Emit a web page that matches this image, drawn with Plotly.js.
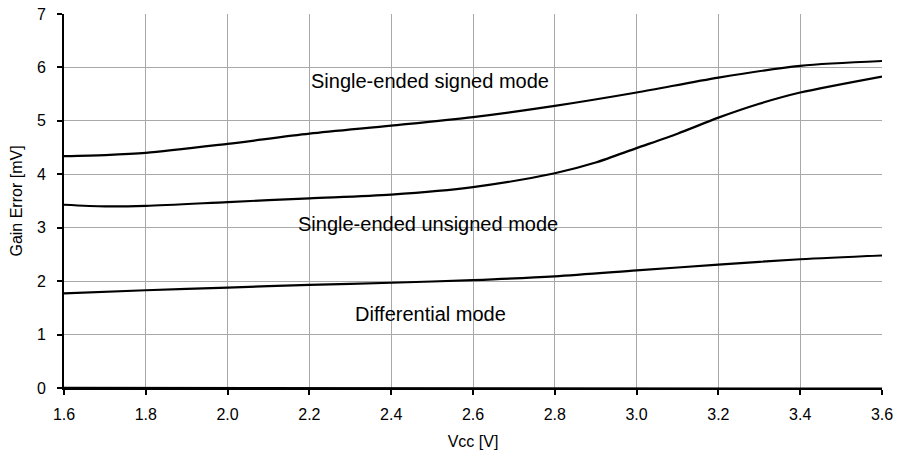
<!DOCTYPE html>
<html>
<head>
<meta charset="utf-8">
<script src="https://cdn.plot.ly/plotly-3.0.1.min.js"></script>
<style>html,body{margin:0;padding:0;background:#fff;}#chart{width:898px;height:459px;}</style>
</head>
<body>
<div id="chart"></div>
<script>
// Vcc [V]
const vccSigned = [1.6, 1.7, 1.8, 2.0, 2.2, 2.4, 2.6, 2.8, 3.0, 3.2, 3.4, 3.6];
const signedMode = [4.34, 4.36, 4.40, 4.57, 4.76, 4.91, 5.07, 5.28, 5.53, 5.81, 6.03, 6.12];

const vccUnsigned = [1.6, 1.7, 1.8, 2.0, 2.2, 2.4, 2.6, 2.8, 2.9, 3.0, 3.1, 3.2, 3.3, 3.4, 3.6];
const unsignedMode = [3.43, 3.40, 3.41, 3.48, 3.55, 3.62, 3.76, 4.02, 4.22, 4.49, 4.76, 5.06, 5.32, 5.53, 5.83];

const vccDiff = [1.6, 1.8, 2.0, 2.2, 2.4, 2.6, 2.8, 3.0, 3.2, 3.4, 3.6];
const differentialMode = [1.77, 1.83, 1.88, 1.93, 1.97, 2.02, 2.09, 2.20, 2.31, 2.41, 2.48];

const vccZero = [1.6, 2.0, 2.4, 2.8, 3.2, 3.6];
const zeroSeries = [0.006, 0.003, 0.0, -0.003, -0.006, -0.01];

const labelTexts = ["Single-ended signed mode", "Single-ended unsigned mode", "Differential mode"];
const labelX = [2.495, 2.49, 2.495];
const labelY = [5.75, 3.07, 1.39];

const xTicks = [1.6, 1.8, 2.0, 2.2, 2.4, 2.6, 2.8, 3.0, 3.2, 3.4, 3.6];
const yTicks = [0, 1, 2, 3, 4, 5, 6, 7];

const FONT = 'Liberation Sans, Arial, sans-serif';
const lineStyle = {color: '#000', width: 2.2, shape: 'spline', smoothing: 0.8};
const traces = [
  {x: vccSigned, y: signedMode, mode: 'lines', line: lineStyle, name: 'signed', hoverinfo: 'skip'},
  {x: vccUnsigned, y: unsignedMode, mode: 'lines', line: lineStyle, name: 'unsigned', hoverinfo: 'skip'},
  {x: vccDiff, y: differentialMode, mode: 'lines', line: lineStyle, name: 'differential', hoverinfo: 'skip'},
  {x: vccZero, y: zeroSeries, mode: 'lines', line: {color: '#000', width: 2}, name: 'zero', hoverinfo: 'skip', cliponaxis: false}
];

const annotations = labelTexts.map((t, i) => ({
  x: labelX[i], y: labelY[i], xref: 'x', yref: 'y', text: t, showarrow: false,
  font: {family: FONT, size: 20, color: '#000'}
}));

const layout = {
  width: 898, height: 459,
  margin: {l: 64, r: 16, t: 14, b: 71},
  paper_bgcolor: '#fff', plot_bgcolor: '#fff',
  showlegend: false,
  font: {family: FONT, color: '#000'},
  xaxis: {
    range: [1.6, 3.6], tickvals: xTicks, tickformat: '.1f',
    showgrid: true, gridcolor: '#a8a8a8', gridwidth: 1,
    showline: true, linecolor: '#000', linewidth: 2,
    ticks: 'outside', ticklen: 5, tickwidth: 2, tickcolor: '#000',
    ticklabelstandoff: 6,
    tickfont: {size: 16}, zeroline: false,
    title: {text: 'Vcc [V]', font: {size: 16}, standoff: 14}
  },
  yaxis: {
    range: [0, 7], tickvals: yTicks,
    showgrid: true, gridcolor: '#a8a8a8', gridwidth: 1,
    showline: true, linecolor: '#000', linewidth: 2,
    ticks: 'outside', ticklen: 5, tickwidth: 2, tickcolor: '#000',
    ticklabelstandoff: 8,
    tickfont: {size: 16}, zeroline: false,
    title: {text: 'Gain Error [mV]', font: {size: 16}, standoff: 10}
  },
  annotations: annotations
};

Plotly.newPlot('chart', traces, layout, {staticPlot: true, displayModeBar: false});
</script>
</body>
</html>
